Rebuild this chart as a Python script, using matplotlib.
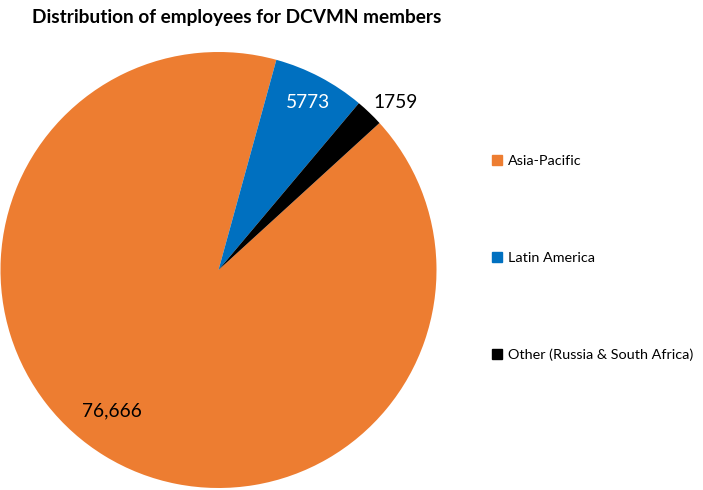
import numpy as np
import matplotlib
matplotlib.use("Agg")
import matplotlib.pyplot as plt
from matplotlib.lines import Line2D

plt.rcParams['font.family'] = ['Lato', 'DejaVu Sans']

regions = ["Asia-Pacific", "Latin America", "Other (Russia & South Africa)"]
employees = [76666, 5773, 1759]
value_labels = ["76,666", "5773", "1759"]
colors = ["#ED7D31", "#0070C0", "#000000"]

W, H = 703, 490
fig = plt.figure(figsize=(W / 100, H / 100), dpi=100)

# pie centre (218.5, 270) px, radius 218 px
r_px = 218
ax = fig.add_axes([(218.5 - r_px) / W, (H - 270 - r_px) / H, 2 * r_px / W, 2 * r_px / H])
wedges, _ = ax.pie(employees, colors=colors, startangle=42.4, counterclock=False,
                   radius=1.0, wedgeprops=dict(linewidth=0))
ax.set_xlim(-1, 1)
ax.set_ylim(-1, 1)
ax.set_aspect("equal")
ax.axis("off")

# value labels (angle in deg, radius as fraction, text colour)
label_pos = [(232.7, 0.81, "black"), (62.0, 0.87, "white"), (43.4, 1.12, "black")]
for txt, (ang, rr, col) in zip(value_labels, label_pos):
    a = np.deg2rad(ang)
    ax.text(rr * np.cos(a), rr * np.sin(a), txt, ha="center", va="center",
            fontsize=13.8, color=col, clip_on=False)

fig.text(32 / W, 1 - 17 / H, "Distribution of employees for DCVMN members",
         fontsize=13.7, fontweight="bold", ha="left", va="center")

handles = [Line2D([0], [0], marker="s", linestyle="none", markersize=7,
                  markerfacecolor=c, markeredgecolor=c) for c in colors]
leg = fig.legend(handles, regions, loc="center left",
                 bbox_to_anchor=(492 / W, 1 - 258 / H), frameon=False,
                 fontsize=10.4, labelspacing=5.85, handlelength=0.7,
                 handletextpad=0.4, borderpad=0, borderaxespad=0)

fig.savefig("out.png", dpi=100)
